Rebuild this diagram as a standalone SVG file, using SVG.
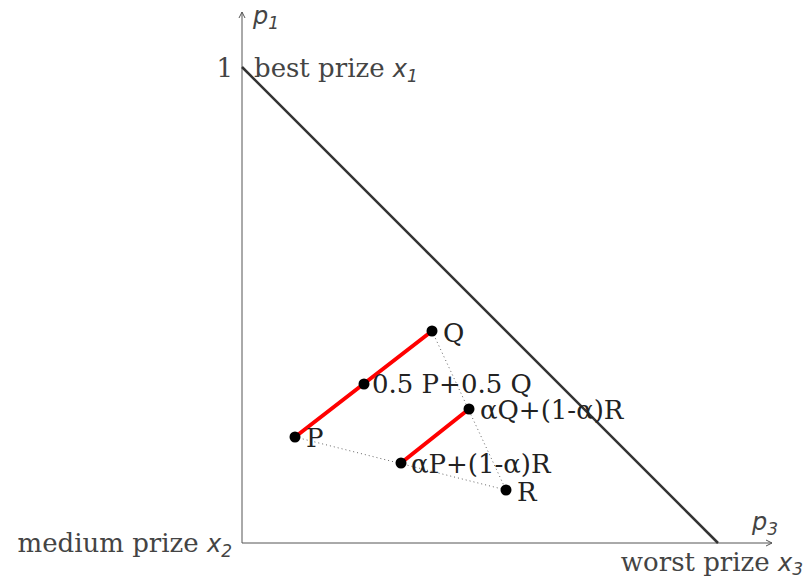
<svg xmlns="http://www.w3.org/2000/svg" width="812" height="580" viewBox="0 0 812 580">
<style>
.t{font-family:"DejaVu Serif","Liberation Serif",serif;font-size:26px;fill:#444}
.d{font-family:"DejaVu Serif","Liberation Serif",serif;font-size:26px;fill:#222}
.v{font-family:"DejaVu Sans","Liberation Sans",sans-serif;font-style:italic;fill:#444}
.ax{stroke:#555;stroke-width:1;fill:none}
.dot{fill:#000}
.red{stroke:#f00;stroke-width:4;stroke-linecap:round}
.dt{stroke:#666;stroke-width:1;stroke-dasharray:1 3;fill:none}
</style>
<g id="axes">
<path class="ax" d="M242,543 V12 M239,18 L242,12 L245,18"/>
<path class="ax" d="M242,543 H772 M766,540 L772,543 L766,546"/>
<line x1="242" y1="67" x2="718" y2="543" stroke="#333" stroke-width="2.5"/>
<text class="v" x="253" y="24" font-size="24">p<tspan font-size="17" dy="5">1</tspan></text>
<text class="v" x="752" y="530" font-size="24">p<tspan font-size="17" dy="5">3</tspan></text>
<text class="t" x="233" y="77" text-anchor="end">1</text>
<text class="t" x="254" y="77">best prize <tspan class="v" font-size="24">x</tspan><tspan class="v" font-size="17" dy="5">1</tspan></text>
<text class="t" x="232" y="552" text-anchor="end">medium prize <tspan class="v" font-size="24">x</tspan><tspan class="v" font-size="17" dy="5">2</tspan></text>
<text class="t" x="803" y="571" text-anchor="end">worst prize <tspan class="v" font-size="24">x</tspan><tspan class="v" font-size="17" dy="4">3</tspan></text>
</g>
<g id="connectors">
<line class="dt" x1="432" y1="331" x2="506" y2="490"/>
<line class="dt" x1="295" y1="437" x2="506" y2="490"/>
<line class="red" x1="295" y1="437" x2="432" y2="331"/>
<line class="red" x1="401" y1="463" x2="469" y2="409"/>
</g>
<g id="Q"><circle class="dot" cx="432" cy="331" r="5.5"/><text class="d" x="443" y="342">Q</text></g>
<g id="M"><circle class="dot" cx="364" cy="384" r="5.5"/><text class="d" x="372" y="393">0.5 P+0.5 Q</text></g>
<g id="P"><circle class="dot" cx="295" cy="437" r="5.5"/><text class="d" x="306" y="447">P</text></g>
<g id="QR"><circle class="dot" cx="469" cy="409" r="5.5"/><text class="d" x="480" y="419">αQ+(1-α)R</text></g>
<g id="PR"><circle class="dot" cx="401" cy="463" r="5.5"/><text class="d" x="411" y="473">αP+(1-α)R</text></g>
<g id="R"><circle class="dot" cx="506" cy="490" r="5.5"/><text class="d" x="517" y="501">R</text></g>
</svg>
